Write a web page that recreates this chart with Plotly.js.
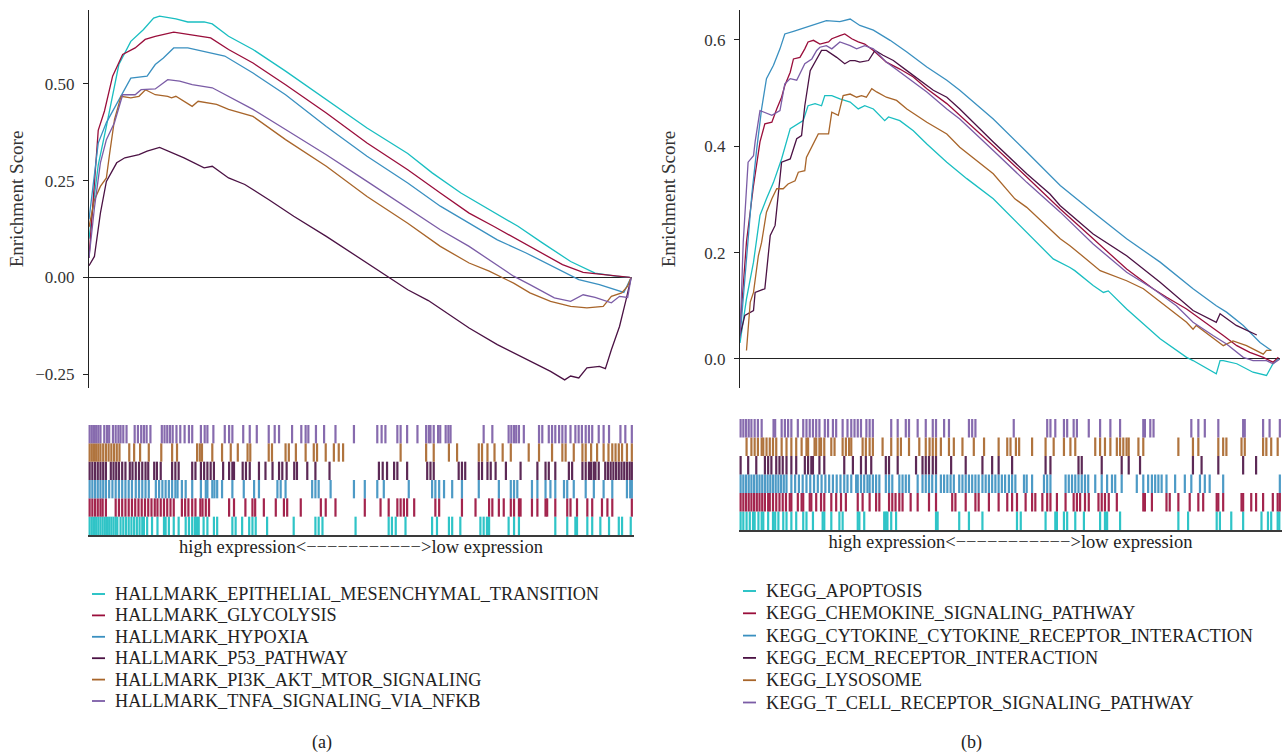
<!DOCTYPE html>
<html>
<head>
<meta charset="utf-8">
<script src="https://cdn.plot.ly/plotly-3.0.1.min.js"></script>
<style>
  html, body { margin: 0; padding: 0; background: #ffffff; }
  #chart { width: 1285px; height: 752px; }
</style>
</head>
<body>
<div id="chart"></div>
<script>
// ---------------- Panel (a): HALLMARK gene sets ----------------
const namesA = [
  "HALLMARK_EPITHELIAL_MESENCHYMAL_TRANSITION",
  "HALLMARK_GLYCOLYSIS",
  "HALLMARK_HYPOXIA",
  "HALLMARK_P53_PATHWAY",
  "HALLMARK_PI3K_AKT_MTOR_SIGNALING",
  "HALLMARK_TNFA_SIGNALING_VIA_NFKB"
];

// rank position (% of ranked gene list) and running enrichment score
const rankA_EMT = [0, 1.7, 3.2, 5.5, 7.7, 10.0, 11.9, 13.0, 16.0, 18.2, 21.2, 22.7, 25.7, 30.2, 36.2, 43.7, 51.2, 58.7, 63.2, 68.5, 73.7, 79.0, 83.5, 88.7, 93.2, 97.0, 99.6];
const esA_EMT   = [0.10, 0.29, 0.39, 0.55, 0.61, 0.64, 0.67, 0.675, 0.668, 0.66, 0.66, 0.655, 0.623, 0.589, 0.533, 0.459, 0.386, 0.32, 0.27, 0.218, 0.175, 0.132, 0.089, 0.041, 0.011, 0.003, 0.0];

const rankA_GLY = [0, 1.7, 2.85, 4.35, 6.2, 8.5, 10.35, 12.2, 15.6, 18.2, 22.4, 25.7, 30.2, 36.2, 43.7, 51.2, 58.7, 64.7, 70.0, 74.5, 79.0, 83.5, 87.2, 91.0, 94.7, 99.6];
const esA_GLY   = [0.05, 0.38, 0.43, 0.52, 0.576, 0.593, 0.615, 0.623, 0.634, 0.629, 0.619, 0.589, 0.554, 0.498, 0.425, 0.347, 0.278, 0.218, 0.166, 0.132, 0.097, 0.063, 0.033, 0.013, 0.007, 0.0];

const rankA_HYP = [0, 1.7, 3.2, 5.5, 7.7, 10.7, 12.2, 13.7, 15.6, 18.2, 21.2, 25.0, 30.2, 36.2, 43.7, 51.2, 58.7, 64.7, 70.0, 75.2, 80.5, 84.2, 87.2, 90.2, 94.0, 98.5, 99.85];
const esA_HYP   = [0.15, 0.347, 0.40, 0.46, 0.515, 0.52, 0.55, 0.567, 0.593, 0.593, 0.584, 0.572, 0.528, 0.472, 0.39, 0.313, 0.244, 0.184, 0.14, 0.097, 0.063, 0.037, 0.016, -0.006, -0.019, -0.039, 0.0];

const rankA_P53 = [0, 1.0, 2.1, 3.2, 5.1, 6.6, 9.2, 10.7, 13.0, 15.2, 17.5, 21.2, 22.7, 25.7, 28.7, 33.2, 37.7, 43.7, 51.2, 55.4, 58.7, 62.5, 70.0, 75.2, 81.2, 85.0, 87.6, 88.7, 90.2, 91.7, 94.0, 95.1, 96.2, 97.7, 98.9, 99.85];
const esA_P53   = [0.03, 0.054, 0.166, 0.248, 0.296, 0.309, 0.317, 0.326, 0.336, 0.322, 0.309, 0.283, 0.287, 0.257, 0.24, 0.2, 0.158, 0.106, 0.037, 0.0, -0.032, -0.06, -0.131, -0.174, -0.217, -0.243, -0.265, -0.255, -0.26, -0.234, -0.23, -0.236, -0.187, -0.127, -0.058, 0.0];

const rankA_PI3K = [0, 1.0, 2.1, 3.2, 3.8, 4.7, 5.9, 7.7, 9.2, 10.4, 12.2, 14.5, 15.2, 16.0, 19.0, 20.1, 23.5, 25.7, 30.2, 36.2, 43.7, 51.2, 58.7, 64.7, 70.0, 73.7, 78.2, 81.2, 85.0, 88.7, 91.7, 94.7, 96.2, 98.1, 99.2, 99.85];
const esA_PI3K   = [0.13, 0.2, 0.235, 0.257, 0.32, 0.408, 0.468, 0.464, 0.468, 0.485, 0.472, 0.468, 0.464, 0.468, 0.442, 0.455, 0.447, 0.434, 0.416, 0.356, 0.287, 0.209, 0.14, 0.08, 0.037, 0.016, -0.015, -0.04, -0.062, -0.075, -0.079, -0.075, -0.049, -0.04, -0.023, 0.0];

const rankA_TNFA = [0, 1.0, 2.1, 3.2, 4.7, 6.2, 8.5, 9.6, 12.2, 14.5, 16.7, 19.0, 22.7, 25.7, 30.2, 36.2, 43.7, 51.2, 58.7, 64.7, 70.0, 74.5, 78.2, 81.2, 85.7, 88.7, 91.0, 93.2, 96.2, 97.7, 99.2, 99.85];
const esA_TNFA   = [0.05, 0.18, 0.296, 0.356, 0.4, 0.472, 0.472, 0.485, 0.487, 0.511, 0.507, 0.498, 0.49, 0.468, 0.434, 0.382, 0.317, 0.248, 0.179, 0.123, 0.08, 0.037, 0.003, -0.019, -0.053, -0.062, -0.045, -0.052, -0.066, -0.049, -0.052, 0.0];

// hit positions (% of ranked list)
const hitsA_EMT = [0,0.4,0.8,1.2,1.6,2.0,2.4,2.8,3.2,3.6,4.0,4.4,4.8,5.1,5.7,6.2,6.7,7.2,7.7,8.2,8.7,9.2,9.7,10.0,10.6,11.5,12.5,13.7,14.0,14.6,15.5,16.4,17.7,18.3,18.9,19.4,19.8,20.1,21.0,21.7,22.9,23.5,26.3,26.9,28.1,29.4,30.0,30.6,32.7,37.6,41.6,42.2,42.9,49.0,55.1,55.7,56.4,58.2,63.1,64.0,66.2,66.8,68.3,72.0,72.6,73.2,73.6,77.2,78.2,79.1,85.8,88.0,89.5,89.8,91.7,92.6,94.1,95.7,97.5,98.1,99.7];
const hitsA_GLY = [0,0.5,1.0,1.5,2.0,2.4,3.0,4.8,5.4,6.0,6.6,7.2,7.8,8.4,9.0,9.6,10.2,10.8,11.4,12.0,12.5,13.1,13.7,14.3,14.9,15.5,17.0,17.6,18.2,18.9,19.5,20.4,20.8,21.4,22.0,25.7,26.6,28.7,30.0,30.5,32.1,34.3,35.8,36.4,38.9,42.6,43.5,45.3,50.7,53.6,55.1,56.7,57.3,57.9,58.5,59.8,63.7,64.4,68.6,71.1,73.6,74.2,75.4,76.3,77.6,78.2,79.1,79.4,81.5,82.5,84.0,84.3,85.8,88.0,88.6,89.8,91.7,92.6,94.4,95.4,96.3,99.9];
const hitsA_HYP = [0,0.5,1.0,1.5,2.0,2.5,3.0,3.6,4.2,4.8,5.4,6.0,6.6,7.2,7.8,8.5,9.1,9.7,10.3,10.9,12.2,12.8,13.4,14.0,14.6,15.2,15.8,16.2,17.0,17.7,18.9,20.5,21.4,21.7,22.6,23.0,23.5,24.4,26.3,28.4,30.3,31.2,34.6,35.2,36.1,41.0,41.6,42.2,44.4,48.7,50.7,53.0,54.2,58.8,63.1,63.7,64.4,65.3,66.8,68.6,71.7,75.4,77.6,78.2,78.8,81.5,82.5,84.0,84.9,85.8,87.4,88.0,89.2,91.4,92.9,94.7,96.3,99.0,99.6,99.9];
const hitsA_P53 = [0,0.5,1.0,1.5,2.0,2.5,3.0,3.9,4.4,4.9,5.4,6.0,6.6,7.4,7.9,8.5,9.1,9.7,10.3,10.8,11.9,12.4,13.1,15.2,15.8,16.4,18.9,19.5,20.5,21.1,21.7,22.3,22.9,24.6,25.7,26.3,26.6,28.2,28.8,29.5,31.2,32.4,33.7,34.9,35.5,36.3,37.7,38.2,40.1,41.6,44.2,53.3,54.0,54.8,56.1,56.7,58.5,62.2,62.8,63.4,68.0,68.6,69.2,71.7,72.3,73.3,73.9,74.8,76.7,79.4,82.5,84.0,84.6,85.8,88.3,88.9,90.8,91.4,92.0,92.4,92.9,93.2,93.8,95.0,95.5,96.0,96.5,97.0,97.5,98.0,98.5,99.0,99.5,99.9];
const hitsA_PI3K = [0,0.4,0.8,1.2,1.6,2.0,2.5,3.0,3.5,4.0,4.5,5.0,5.5,7.3,8.2,9.3,10.9,13.2,15.2,16.1,19.8,20.3,20.7,22.6,24.4,26.0,27.3,29.1,29.6,33.0,33.6,36.1,36.7,38.0,39.8,41.3,41.9,43.5,45.0,45.9,46.7,57.3,62.0,63.4,66.2,67.7,71.7,72.3,73.3,74.6,76.1,77.6,80.9,82.8,85.2,87.1,87.7,89.2,90.8,91.4,92.4,93.5,94.7,95.6,96.3,96.9,97.5,98.1,99.0,99.9];
const hitsA_TNFA = [0,0.4,0.8,1.2,1.6,2.0,2.7,3.2,3.6,4.3,4.8,5.3,5.7,6.2,6.8,8.3,8.9,9.5,10.0,10.5,11.2,13.3,13.8,14.3,14.8,15.3,16.0,16.7,17.5,18.3,18.9,20.5,21.2,21.7,22.8,24.9,25.7,26.3,28.3,29.5,30.8,33.0,34.1,34.9,37.3,39.0,39.8,40.3,41.7,43.2,45.3,48.7,53.0,53.8,54.5,56.7,57.3,58.5,60.4,62.0,62.5,62.8,63.4,64.2,64.6,65.6,66.1,66.5,72.6,74.2,77.2,77.7,78.2,78.6,79.1,80.0,82.8,83.4,84.6,85.2,85.8,86.5,87.1,87.7,88.6,89.5,90.1,90.7,91.4,92.0,92.6,93.8,94.7,95.7,97.8,98.7,99.9];

// ---------------- Panel (b): KEGG gene sets ----------------
const namesB = [
  "KEGG_APOPTOSIS",
  "KEGG_CHEMOKINE_SIGNALING_PATHWAY",
  "KEGG_CYTOKINE_CYTOKINE_RECEPTOR_INTERACTION",
  "KEGG_ECM_RECEPTOR_INTERACTION",
  "KEGG_LYSOSOME",
  "KEGG_T_CELL_RECEPTOR_SIGNALING_PATHWAY"
];

const rankB_APO = [0,1.2,2.5,3.7,4.9,6.2,7.7,9.3,11.7,12.6,13.9,15.1,15.7,17.0,18.5,20.4,21.9,23.1,24.7,26.8,27.5,29.6,32.1,34.6,38.3,42.0,46.9,53.1,58.0,61.1,62.0,65.4,67.3,68.2,71.6,77.8,82.7,83.9,88.2,88.9,89.5,92.0,95.0,97.5,98.7,99.7];
const esB_APO   = [0.03,0.113,0.182,0.27,0.301,0.332,0.376,0.433,0.448,0.476,0.48,0.476,0.495,0.495,0.489,0.483,0.47,0.476,0.47,0.448,0.455,0.448,0.429,0.404,0.37,0.339,0.301,0.238,0.188,0.172,0.166,0.138,0.125,0.128,0.094,0.038,0.003,-0.003,-0.028,-0.003,-0.003,-0.009,-0.025,-0.031,-0.009,0.0];

const rankB_CHE = [0,1.2,2.5,3.7,4.6,5.9,6.8,7.7,8.3,9.3,9.9,11.1,12.0,12.6,13.6,14.8,16.4,17.0,18.5,19.4,20.7,21.9,23.1,24.7,27.1,29.6,32.1,34.6,38.3,40.7,46.9,53.1,59.3,65.4,71.6,76.5,79.0,82.7,87.0,89.5,92.0,94.4,96.9,98.7,99.7];
const esB_CHE   = [0.056,0.22,0.326,0.408,0.442,0.445,0.47,0.492,0.514,0.539,0.564,0.567,0.583,0.596,0.599,0.592,0.596,0.602,0.608,0.611,0.602,0.596,0.592,0.58,0.558,0.545,0.53,0.508,0.48,0.458,0.401,0.342,0.282,0.226,0.169,0.132,0.116,0.094,0.063,0.044,0.025,0.0125,0.003,-0.006,0.003];

const rankB_CYT = [0,1.2,2.2,3.1,4.0,4.9,6.2,7.4,8.3,9.9,11.4,13.0,14.8,16.0,18.5,20.4,22.2,24.7,27.8,30.9,34.6,38.3,40.7,46.9,53.1,59.3,65.4,71.6,77.8,83.9,88.2,90.1,93.2,96.3,98.4];
const esB_CYT   = [0.04,0.19,0.31,0.395,0.47,0.527,0.552,0.583,0.611,0.616,0.621,0.627,0.633,0.636,0.634,0.639,0.627,0.618,0.599,0.577,0.549,0.524,0.505,0.451,0.389,0.326,0.276,0.226,0.182,0.132,0.1,0.088,0.063,0.031,0.016];

const rankB_ECM = [0,0.9,2.5,2.8,4.6,5.6,6.5,7.7,9.3,10.5,11.4,12.0,13.0,14.2,15.1,16.0,17.9,19.4,20.4,21.3,22.2,23.8,25.0,26.5,28.4,30.9,33.3,35.8,38.3,40.7,46.9,53.1,57.4,59.3,65.4,71.6,77.8,83.9,88.2,88.9,91.9,95.7];
const esB_ECM   = [0.044,0.082,0.091,0.125,0.132,0.232,0.251,0.37,0.376,0.414,0.42,0.476,0.542,0.564,0.58,0.58,0.567,0.555,0.561,0.561,0.558,0.561,0.58,0.571,0.561,0.542,0.524,0.505,0.492,0.47,0.408,0.348,0.31,0.288,0.235,0.194,0.144,0.091,0.069,0.085,0.063,0.045];

const rankB_LYS = [1.2,1.9,2.5,3.4,4.0,4.9,5.9,6.8,8.0,8.9,10.2,10.8,12.0,12.3,14.5,16.4,17.0,18.2,19.1,20.4,21.6,22.5,23.4,24.4,25.3,27.1,29.0,30.9,34.6,38.3,40.7,46.9,50.9,53.1,59.3,61.1,66.7,71.6,74.7,77.8,82.7,83.9,84.5,89.5,91.3,93.8,95.0,96.9,97.5,98.4];
const esB_LYS   = [0.016,0.107,0.125,0.194,0.219,0.276,0.301,0.32,0.32,0.329,0.335,0.351,0.354,0.379,0.423,0.423,0.464,0.458,0.495,0.498,0.492,0.495,0.492,0.508,0.502,0.492,0.486,0.47,0.445,0.423,0.398,0.348,0.301,0.285,0.226,0.213,0.166,0.147,0.132,0.107,0.069,0.056,0.063,0.025,0.034,0.025,0.019,0.009,0.016,0.016];

const rankB_TCR = [0,0.6,1.5,2.5,2.8,3.7,5.9,7.4,8.3,9.3,10.5,11.1,12.0,13.3,14.2,14.8,16.0,17.0,18.5,20.4,21.6,23.1,24.7,27.1,29.6,32.1,34.6,38.3,40.7,46.9,53.1,59.3,65.4,71.6,76.5,80.8,83.9,87.6,90.1,93.2,95.0,97.5,98.7,100];
const esB_TCR   = [0.04,0.22,0.37,0.382,0.408,0.467,0.458,0.467,0.517,0.527,0.524,0.536,0.555,0.564,0.58,0.586,0.589,0.583,0.596,0.589,0.583,0.589,0.583,0.558,0.539,0.52,0.502,0.47,0.451,0.392,0.332,0.276,0.216,0.163,0.132,0.1,0.069,0.044,0.028,0.003,-0.003,-0.003,-0.009,0.0];

const hitsB_APO = [0,0.5,1.1,1.7,2.3,2.6,3.3,3.9,4.2,5.1,6.0,6.4,7.0,7.9,8.5,9.4,10.3,11.6,12.2,13.4,15.2,15.5,16.8,18.3,18.9,21.7,22.0,22.9,26.6,26.9,27.2,27.9,28.8,36.2,36.5,40.5,42.3,44.8,51.2,51.9,56.5,58.3,58.6,59.9,60.5,62.0,63.6,66.6,67.5,67.9,70.3,81.1,82.9,88.2,88.8,90.9,93.1,96.5,97.7,98.3,99.5,99.8];
const hitsB_CHE = [0,0.5,1.0,1.5,2.0,2.5,3.0,3.5,4.0,4.5,5.1,5.4,6.0,6.6,7.2,7.8,8.4,9.1,9.4,10.6,11.3,11.6,12.8,13.1,14.0,14.9,15.5,16.8,17.7,18.6,19.5,21.7,22.6,23.9,25.1,25.7,27.5,28.1,28.7,29.4,30.0,31.5,32.8,34.9,36.2,39.2,39.8,41.7,43.5,44.1,46.0,47.8,49.4,50.3,51.2,52.8,54.0,54.6,55.9,56.8,57.4,58.6,60.2,61.7,62.3,62.9,63.8,64.5,66.3,66.9,67.5,68.2,69.7,74.6,74.9,76.2,78.9,79.5,81.1,83.2,84.8,85.7,88.2,88.5,89.4,92.8,93.1,94.6,95.5,96.8,98.6,99.5,99.9];
const hitsB_CYT = [0,0.5,1.0,1.5,2.0,2.5,3.0,3.5,4.0,4.5,5.0,5.5,6.0,6.5,7.0,7.5,8.0,8.5,9.4,10.1,10.8,11.5,12.2,12.9,13.6,14.3,15.0,15.7,16.4,17.1,17.8,18.5,19.2,19.8,20.5,21.4,21.7,22.3,22.9,23.5,23.9,24.5,25.1,25.7,26.9,27.5,28.1,29.4,30.0,30.6,31.2,32.8,33.7,34.3,34.9,35.5,36.2,37.1,37.7,38.3,38.9,39.5,40.5,41.1,41.7,42.3,42.9,43.5,44.1,44.8,45.4,46.0,46.6,47.2,47.8,48.4,49.0,49.7,50.3,50.9,52.5,53.0,54.0,56.2,56.8,57.4,60.2,60.8,61.4,62.0,62.6,63.2,63.8,64.4,65.7,66.9,67.9,68.8,69.4,70.6,73.4,74.6,75.5,76.2,76.8,77.4,78.0,78.9,80.5,82.3,83.5,85.1,86.0,86.9,89.4,99.9];
const hitsB_ECM = [0,1.4,2.9,4.5,5.1,5.7,6.6,7.2,7.8,8.5,9.4,10.3,11.9,12.5,13.1,13.4,14.6,15.5,19.2,20.8,22.3,23.2,24.2,26.9,27.5,29.1,32.5,33.7,34.3,34.9,35.6,36.2,39.0,41.7,44.8,46.6,47.8,50.3,56.5,57.4,62.6,63.2,66.9,70.6,71.9,74.0,83.8,85.4,88.5,93.1,95.5];
const hitsB_LYS = [1.1,2.0,2.6,3.2,3.9,4.2,4.8,5.4,6.0,6.6,7.6,8.5,9.4,10.3,11.3,12.2,12.5,13.7,14.0,14.6,14.9,15.5,16.8,17.4,18.9,19.5,20.1,20.5,22.6,23.2,23.9,24.5,26.3,27.9,29.1,29.7,31.2,33.1,34.3,35.0,35.6,36.2,37.1,38.6,39.5,41.1,43.2,45.1,47.8,49.4,50.0,51.0,51.6,54.0,56.5,58.0,59.9,61.1,62.0,65.7,66.6,67.5,68.5,69.7,70.3,70.9,71.5,71.9,73.7,74.6,81.1,83.8,84.8,88.5,89.4,90.0,92.8,93.4,96.8,97.4,98.3,99.5];
const hitsB_TCR = [0,0.5,1.0,1.5,2.0,2.6,3.2,3.9,6.1,6.4,7.6,8.2,8.8,9.4,10.6,11.6,12.2,12.8,13.4,14.0,14.6,15.6,16.2,17.1,17.7,18.9,19.8,20.5,21.1,21.7,22.3,23.3,23.9,24.5,27.9,29.1,30.6,31.2,32.8,34.3,35.6,36.2,37.7,38.6,42.3,42.9,43.5,50.6,56.8,57.4,58.3,59.9,60.5,61.7,62.3,64.5,66.6,68.5,70.3,74.6,74.9,75.9,76.5,83.5,84.8,86.0,88.5,93.1,93.4,96.8,98.0,99.9];

const xLabel = "high expression<\u2212\u2212\u2212\u2212\u2212\u2212\u2212\u2212\u2212\u2212\u2212>low expression";
const yLabel = "Enrichment Score";

// ---------------- styling ----------------
const palette = ["#19BEC1", "#9A0E3B", "#3A90C0", "#4B1244", "#A8652A", "#7B5CA6"];
const FONT = "Liberation Serif, 'Times New Roman', serif";
const W = 1285, H = 752;
const fx = p => p / W;
const fy = p => 1 - p / H;

const seriesA = [
  [rankA_EMT, esA_EMT, hitsA_EMT],
  [rankA_GLY, esA_GLY, hitsA_GLY],
  [rankA_HYP, esA_HYP, hitsA_HYP],
  [rankA_P53, esA_P53, hitsA_P53],
  [rankA_PI3K, esA_PI3K, hitsA_PI3K],
  [rankA_TNFA, esA_TNFA, hitsA_TNFA]
];
const seriesB = [
  [rankB_APO, esB_APO, hitsB_APO],
  [rankB_CHE, esB_CHE, hitsB_CHE],
  [rankB_CYT, esB_CYT, hitsB_CYT],
  [rankB_ECM, esB_ECM, hitsB_ECM],
  [rankB_LYS, esB_LYS, hitsB_LYS],
  [rankB_TCR, esB_TCR, hitsB_TCR]
];

function rugTrace(hits, row, color, xa, ya, name) {
  const xs = [], ys = [];
  hits.forEach(h => { xs.push(h, h, null); ys.push(row, row + 1, null); });
  return { type: "scatter", mode: "lines", x: xs, y: ys, xaxis: xa, yaxis: ya, name: name,
           line: { color: color, width: 2.2 }, opacity: 0.9, showlegend: false, hoverinfo: "skip" };
}

const traces = [];
seriesA.forEach((s, i) => {
  traces.push({ type: "scatter", mode: "lines", x: s[0], y: s[1], name: namesA[i],
                xaxis: "x", yaxis: "y", line: { color: palette[i], width: 1.3 }, showlegend: false });
});
seriesB.forEach((s, i) => {
  traces.push({ type: "scatter", mode: "lines", x: s[0], y: s[1], name: namesB[i],
                xaxis: "x2", yaxis: "y2", line: { color: palette[i], width: 1.3 }, showlegend: false });
});
seriesA.forEach((s, i) => traces.push(rugTrace(s[2], i, palette[i], "x3", "y3", namesA[i])));
seriesB.forEach((s, i) => traces.push(rugTrace(s[2], i, palette[i], "x4", "y4", namesB[i])));

// legend drawn as colored dashes + text (matching the compact legend of the figure)
const shapes = [], annotations = [];
function addLegend(names, dashX0, dashX1, textX, y0, step) {
  names.forEach((n, i) => {
    const yy = y0 + step * i;
    shapes.push({ type: "line", xref: "paper", yref: "paper", x0: fx(dashX0), x1: fx(dashX1),
                  y0: fy(yy), y1: fy(yy), line: { color: palette[i], width: 1.8 } });
    annotations.push({ xref: "paper", yref: "paper", x: fx(textX), y: fy(yy), xanchor: "left", yanchor: "middle",
                       text: n, showarrow: false, font: { family: FONT, size: 18.2, color: "#222" } });
  });
}
addLegend(namesA, 92, 105, 113, 594, 21.4);
addLegend(namesB, 743, 756, 764, 591, 22.3);

annotations.push({ xref: "paper", yref: "paper", x: fx(322), y: fy(742), text: "(a)", showarrow: false,
                   xanchor: "center", yanchor: "middle", font: { family: FONT, size: 18, color: "#222" } });
annotations.push({ xref: "paper", yref: "paper", x: fx(971), y: fy(742), text: "(b)", showarrow: false,
                   xanchor: "center", yanchor: "middle", font: { family: FONT, size: 18, color: "#222" } });

const yBase = {
  showline: true, linecolor: "#222", linewidth: 1, ticks: "outside", ticklen: 5, tickcolor: "#222",
  showgrid: false, zeroline: true, zerolinecolor: "#222", zerolinewidth: 1, ticklabelstandoff: 5,
  tickfont: { family: FONT, size: 17, color: "#333" }
};
const xHidden = { showline: false, showgrid: false, zeroline: false, showticklabels: false, ticks: "" };
const rugX = { showline: true, linecolor: "#3a3a3a", linewidth: 2, showgrid: false, zeroline: false,
               showticklabels: false, ticks: "", range: [-0.3, 100.3] };
const rugY = { visible: false, range: [0, 6], showgrid: false, zeroline: false };

const layout = {
  width: W, height: H,
  margin: { l: 0, r: 0, t: 0, b: 0 },
  paper_bgcolor: "#ffffff", plot_bgcolor: "rgba(0,0,0,0)",
  showlegend: false,
  font: { family: FONT, color: "#222" },
  xaxis: Object.assign({}, xHidden, { domain: [fx(89), fx(632)], range: [0, 100], anchor: "y" }),
  yaxis: Object.assign({}, yBase, { domain: [fy(388), fy(10)], range: [-0.286, 0.691], anchor: "x",
           tickvals: [-0.25, 0, 0.25, 0.5], tickformat: ".2f",
           title: { text: yLabel, font: { family: FONT, size: 19, color: "#333" }, standoff: 6 } }),
  xaxis2: Object.assign({}, xHidden, { domain: [fx(740), fx(1280)], range: [0, 100], anchor: "y2" }),
  yaxis2: Object.assign({}, yBase, { domain: [fy(388), fy(10)], range: [-0.0546, 0.656], anchor: "x2",
           tickvals: [0, 0.2, 0.4, 0.6], tickformat: ".1f",
           title: { text: yLabel, font: { family: FONT, size: 19, color: "#333" }, standoff: 23 } }),
  xaxis3: Object.assign({}, rugX, { domain: [fx(88), fx(634)], anchor: "y3",
           title: { text: xLabel, font: { family: FONT, size: 18.5, color: "#222" }, standoff: 4 } }),
  yaxis3: Object.assign({}, rugY, { domain: [fy(535), fy(425)], anchor: "x3" }),
  xaxis4: Object.assign({}, rugX, { domain: [fx(739), fx(1282)], anchor: "y4",
           title: { text: xLabel, font: { family: FONT, size: 18.5, color: "#222" }, standoff: 4 } }),
  yaxis4: Object.assign({}, rugY, { domain: [fy(530), fy(419)], anchor: "x4" }),
  shapes: shapes,
  annotations: annotations
};

Plotly.newPlot("chart", traces, layout, { staticPlot: true, displayModeBar: false });
</script>
</body>
</html>
